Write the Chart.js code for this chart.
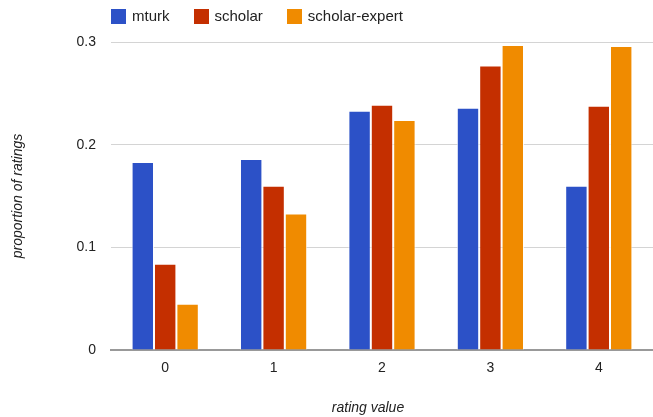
<!DOCTYPE html>
<html>
<head>
<meta charset="utf-8">
<script src="https://cdn.jsdelivr.net/npm/chart.js@4"></script>
<style>
  body { margin: 0; background: #fff; }
  #wrap { position: relative; width: 653px; height: 417px; }
  #legend { position: absolute; left: 111px; top: 7px; font: 15px "Liberation Sans", Arial, sans-serif; color: #222; white-space: nowrap; }
  #legend span.item { display: inline-block; margin-right: 24px; }
  #legend span.box { display: inline-block; width: 15px; height: 15px; vertical-align: -3px; margin-right: 6px; }
</style>
</head>
<body>
<div id="wrap">
  <canvas id="myChart" width="653" height="417"></canvas>
  <div id="legend"></div>
</div>
<script>
var categorie = ['0', '1', '2', '3', '4'];
var nomiSerie = ['mturk', 'scholar', 'scholar-expert'];
var mturk = [0.183, 0.186, 0.233, 0.236, 0.160];
var scholar = [0.084, 0.160, 0.239, 0.277, 0.238];
var scholarExpert = [0.045, 0.133, 0.224, 0.297, 0.296];
var tickY = [0, 0.1, 0.2, 0.3];
var colori = ['#2c51c7', '#c42f00', '#f08b00'];

var font = 'Liberation Sans, Arial, sans-serif';
var valori = [mturk, scholar, scholarExpert];

// legenda in html
var legendHtml = '';
for (var i = 0; i < nomiSerie.length; i++) {
  legendHtml += '<span class="item"><span class="box" style="background:' + colori[i] + '"></span>' + nomiSerie[i] + '</span>';
}
document.getElementById('legend').innerHTML = legendHtml;

var datasets = [];
for (var i = 0; i < nomiSerie.length; i++) {
  datasets.push({
    label: nomiSerie[i],
    data: valori[i],
    backgroundColor: colori[i],
    borderColor: 'rgba(255,255,255,0.8)',
    borderWidth: 1,
    borderSkipped: 'bottom',
    categoryPercentage: 0.62,
    barPercentage: 1
  });
}

// titolo asse x disegnato a mano, un po' a sinistra del centro come nell'originale
var titoloX = {
  id: 'titoloX',
  afterDraw: function(c) {
    var g = c.ctx;
    var a = c.chartArea;
    g.save();
    g.font = 'italic 14px ' + font;
    g.fillStyle = '#222';
    g.textAlign = 'center';
    g.textBaseline = 'middle';
    g.fillText('rating value', (a.left + a.right) / 2 - 14, 408);
    g.restore();
  }
};

var ctx = document.getElementById('myChart').getContext('2d');
var chart = new Chart(ctx, {
  type: 'bar',
  data: { labels: categorie, datasets: datasets },
  plugins: [titoloX],
  options: {
    responsive: false,
    animation: false,
    layout: { padding: { top: 42, right: 0, bottom: 0, left: 0 } },
    plugins: { legend: { display: false }, tooltip: { enabled: false } },
    scales: {
      x: {
        grid: { display: false, drawTicks: false },
        border: { display: true, color: '#999', width: 2 },
        ticks: { color: '#222', font: { family: font, size: 14 }, padding: 10 },
        afterFit: function(scale) { scale.height = 67; }
      },
      y: {
        min: 0,
        max: 0.3,
        afterBuildTicks: function(scale) {
          scale.ticks = tickY.map(function(v) { return { value: v }; });
        },
        grid: { color: '#d4d4d4', drawTicks: false },
        border: { display: false },
        ticks: {
          color: '#222',
          font: { family: font, size: 14 },
          padding: 15,
          callback: function(v) { return v === 0 ? '0' : String(v); }
        },
        title: { display: true, text: 'proportion of ratings', color: '#222', font: { family: font, size: 14, style: 'italic' }, padding: { top: 10, bottom: 0 } },
        afterFit: function(scale) { scale.width = 111; }
      }
    }
  }
});
</script>
</body>
</html>
